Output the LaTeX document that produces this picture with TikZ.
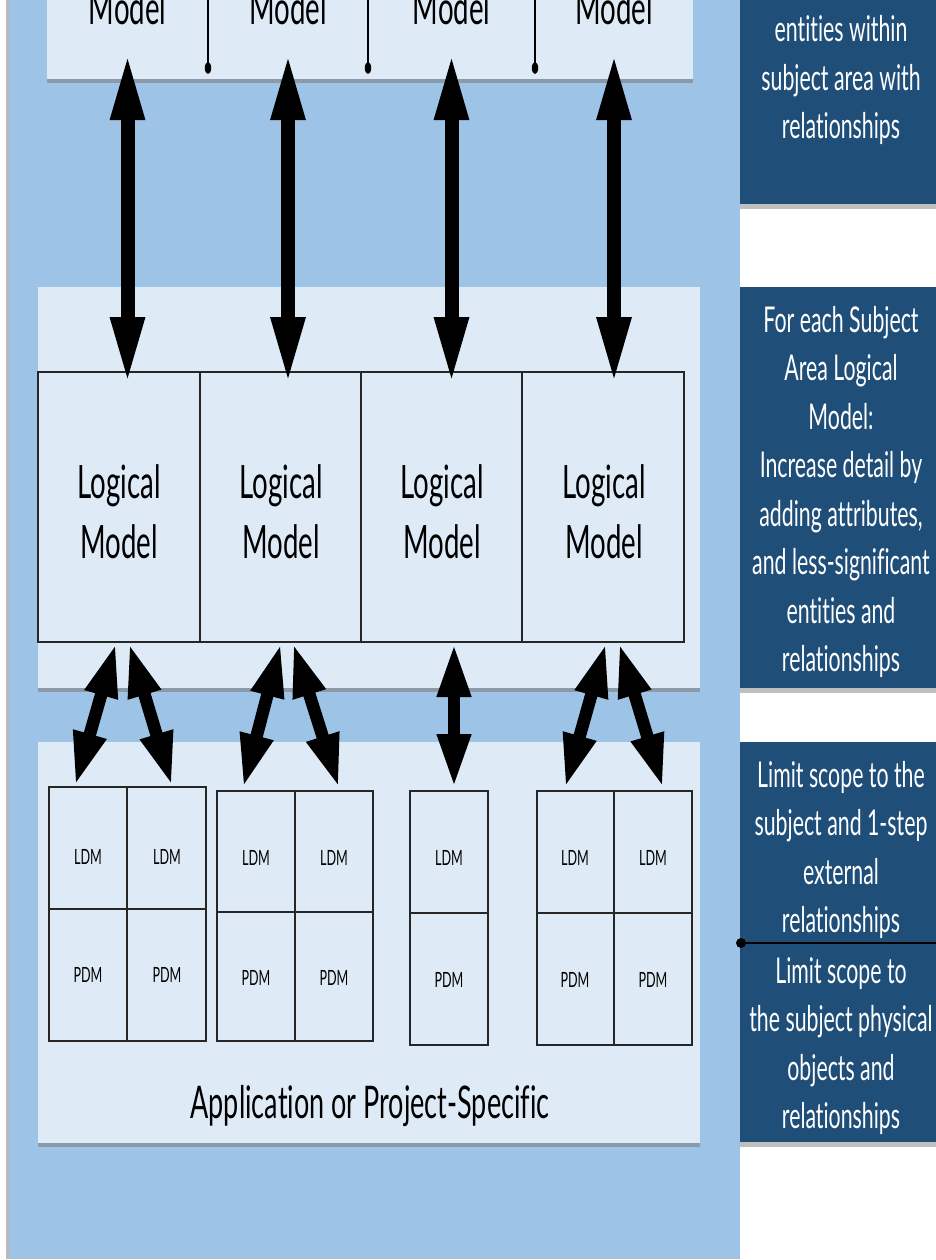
\documentclass[tikz,border=0pt]{standalone}
\usepackage{fontspec}
\setmainfont{Lato}[Ligatures=NoCommon]
\newfontfamily\cond{Lato}[FakeStretch=0.6,Ligatures=NoCommon]
\usetikzlibrary{arrows.meta,shadows,calc,fit}
\definecolor{bgblue}{HTML}{9DC3E6}
\definecolor{panel}{HTML}{DEEBF7}
\definecolor{navy}{HTML}{1F4E79}
\begin{document}
\begin{tikzpicture}[x=1pt,y=-1pt,
  panelbox/.style={fill=panel, draw=none, inner sep=0pt,
    drop shadow={shadow xshift=0pt, shadow yshift=-4pt, opacity=.6}},
  navybox/.style={fill=navy, draw=none, inner sep=0pt,
    drop shadow={shadow xshift=0pt, shadow yshift=-5pt, opacity=.5}},
  hidden/.style={draw=none, inner sep=0pt},
  cellbox/.style={draw=black!85, line width=2pt, fill=panel, inner sep=0pt},
  bigarr/.style={{Triangle[length=68pt,width=31pt]}-{Triangle[length=68pt,width=31pt]}, line width=14pt, black},
  smallarr/.style={{Triangle[length=54pt,width=31pt]}-{Triangle[length=54pt,width=31pt]}, line width=12.5pt, black},
  bigtext/.style={font=\cond\fontsize{46}{60}\selectfont, align=center, inner sep=0pt},
  ldmtext/.style={font=\cond\fontsize{21}{24}\selectfont, inner sep=0pt},
  navytext/.style={font=\cond\fontsize{35.5}{48.5}\selectfont, align=center, text=white, inner sep=0pt},
  divider/.style={line width=1.5pt, black}
]
\useasboundingbox (0,0) rectangle (936,1260);
\clip (0,0) rectangle (936,1260);
\fill[white] (0,0) rectangle (936,1260);
% blue background
\fill[gray!55] (6,-5) rectangle (740,1259);
\fill[bgblue] (9,-5) rectangle (740,1258);

% top panel
\node[panelbox, fit={(47,-60) (693,79)}] (topbox) {};
\node[hidden, fit={(47,-60) (208,79)}] (cm1) {};
\node[hidden, fit={(208,-60) (368,79)}] (cm2) {};
\node[hidden, fit={(368,-60) (535,79)}] (cm3) {};
\node[hidden, fit={(535,-60) (693,79)}] (cm4) {};
\foreach \x in {208,368,535}{
  \draw[divider] (\x,-60) -- (\x,68);
  \fill (\x,68) ellipse [x radius=3.2, y radius=6];
}
\node[bigtext, anchor=base] (cmt1) at (cm1.center |- 0,25) {Model};
\node[bigtext, anchor=base] (cmt2) at (cm2.center |- 0,25) {Model};
\node[bigtext, anchor=base] (cmt3) at (cm3.center |- 0,25) {Model};
\node[bigtext, anchor=base] (cmt4) at (cm4.center |- 0,25) {Model};

% right navy boxes
\node[navybox, fit={(740,-20) (936,204)}] (nb1) {};
\node[navybox, fit={(740,287) (936,688)}] (nb2) {};
\node[navybox, fit={(740,742) (936,1142)}] (nb3) {};
\node[navytext] (nt1) at (841,80) {entities within\\subject area with\\relationships};
\node[navytext] (nt2) at (841,492) {For each Subject\\Area Logical\\Model:\\Increase detail by\\adding attributes,\\and less-significant\\entities and\\relationships};
\node[navytext] (nt3) at (841,850) {Limit scope to the\\subject and 1-step\\external\\relationships};
\node[navytext] (nt4) at (841,1046) {Limit scope to\\the subject physical\\objects and\\relationships};
\coordinate (sepL) at (741,943);
\coordinate (sepR) at (936,943);
\draw[line width=2.5pt] (sepL) -- (sepR);
\fill (sepL) circle [radius=5];

% middle panel
\node[panelbox, fit={(38,287) (700,688)}] (midpanel) {};
\node[cellbox, fit={(38,372) (200,642)}] (lm1) {};
\node[cellbox, fit={(200,372) (361,642)}] (lm2) {};
\node[cellbox, fit={(361,372) (522,642)}] (lm3) {};
\node[cellbox, fit={(522,372) (684,642)}] (lm4) {};
\foreach \i/\x in {1/119,2/281,3/442,4/604}{
  \node[bigtext] (lmt\i) at (\x,512) {Logical\\Model};
}

% bottom panel
\node[panelbox, fit={(38,742) (700,1143)}] (botpanel) {};
\node[bigtext, font=\cond\fontsize{45}{50}\selectfont] (apptext) at (370,1106) {Application or Project-Specific};

% small grids
% G1
\node[cellbox, fit={(49,787) (127,909)}] (g1a) {};
\node[cellbox, fit={(127,787) (206,909)}] (g1b) {};
\node[cellbox, fit={(49,909) (127,1041)}] (g1c) {};
\node[cellbox, fit={(127,909) (206,1041)}] (g1d) {};
% G2
\node[cellbox, fit={(217,791) (295,912)}] (g2a) {};
\node[cellbox, fit={(295,791) (373,912)}] (g2b) {};
\node[cellbox, fit={(217,912) (295,1041)}] (g2c) {};
\node[cellbox, fit={(295,912) (373,1041)}] (g2d) {};
% G3
\node[cellbox, fit={(410,791) (488,913)}] (g3a) {};
\node[cellbox, fit={(410,913) (488,1045)}] (g3c) {};
% G4
\node[cellbox, fit={(537,791) (614,913)}] (g4a) {};
\node[cellbox, fit={(614,791) (692,913)}] (g4b) {};
\node[cellbox, fit={(537,913) (614,1045)}] (g4c) {};
\node[cellbox, fit={(614,913) (692,1045)}] (g4d) {};

\node[ldmtext] (l1a) at (88,857) {LDM};
\node[ldmtext] (l1b) at (167,857) {LDM};
\node[ldmtext] (p1c) at (88,975) {PDM};
\node[ldmtext] (p1d) at (167,975) {PDM};
\node[ldmtext] (l2a) at (256,858) {LDM};
\node[ldmtext] (l2b) at (334,858) {LDM};
\node[ldmtext] (p2c) at (256,978) {PDM};
\node[ldmtext] (p2d) at (334,978) {PDM};
\node[ldmtext] (l3a) at (449,858) {LDM};
\node[ldmtext] (p3c) at (449,980) {PDM};
\node[ldmtext] (l4a) at (575,858) {LDM};
\node[ldmtext] (l4b) at (653,858) {LDM};
\node[ldmtext] (p4c) at (575,980) {PDM};
\node[ldmtext] (p4d) at (653,980) {PDM};

% big arrows
\foreach \i in {1,2,3,4}{
  \draw[bigarr] ($(cm\i.south)+(0,-27)$) -- ($(cm\i.south |- lm\i.north)+(0,14)$);
}

% lower arrows
\draw[smallarr] ($(lm1.south)+(-3,0)$) -- ($(g1a.north)+(-13,0)$);
\draw[smallarr] ($(lm1.south)+(10,0)$) -- ($(g1b.north)+(5.5,0)$);
\draw[smallarr] ($(lm2.south)+(0.5,0)$) -- ($(g2a.north)+(-13,-2)$);
\draw[smallarr] ($(lm2.south)+(12.5,0)$) -- ($(g2b.north)+(5,-2)$);
\draw[smallarr] ($(lm3.south)+(12.5,0)$) -- ($(g3a.north)+(5,-2)$);
\draw[smallarr] ($(lm4.south)+(3,0)$) -- ($(g4a.north)+(-10.5,-2)$);
\draw[smallarr] ($(lm4.south)+(16,0)$) -- ($(g4b.north)+(10,-2)$);
\end{tikzpicture}
\end{document}
